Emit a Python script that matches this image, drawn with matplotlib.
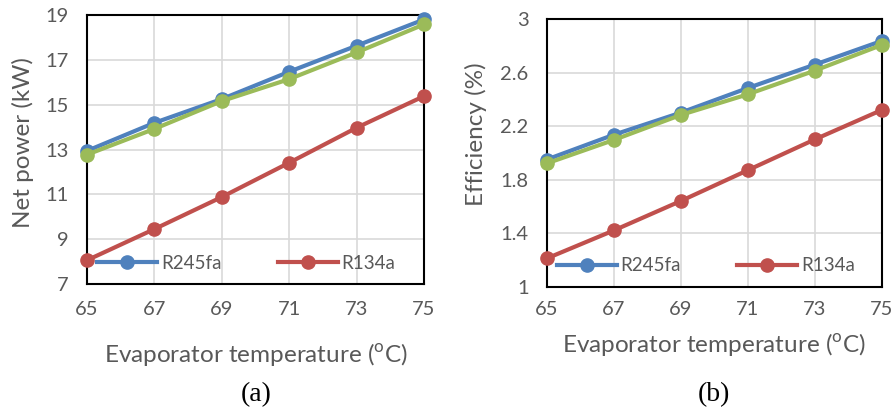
import matplotlib
matplotlib.use("Agg")
import matplotlib.pyplot as plt

plt.rcParams['font.family'] = ['Lato', 'DejaVu Sans']
plt.rcParams['mathtext.fontset'] = 'custom'
plt.rcParams['mathtext.rm'] = 'Lato'

temps = [65, 67, 69, 71, 73, 75]
power_r245fa = [12.94, 14.19, 15.25, 16.47, 17.63, 18.80]
power_green = [12.77, 13.92, 15.16, 16.14, 17.33, 18.58]
power_r134a = [8.06, 9.45, 10.88, 12.41, 13.97, 15.38]
eff_r245fa = [1.95, 2.135, 2.30, 2.484, 2.659, 2.836]
eff_green = [1.921, 2.096, 2.283, 2.437, 2.614, 2.806]
eff_r134a = [1.211, 1.42, 1.64, 1.87, 2.10, 2.32]
xticks = [65, 67, 69, 71, 73, 75]
yticks_a = [7, 9, 11, 13, 15, 17, 19]
yticks_b = [1, 1.4, 1.8, 2.2, 2.6, 3]
ytick_labels_b = ['1', '1.4', '1.8', '2.2', '2.6', '3']

BLUE = '#4F81BD'
RED = '#C0504D'
GREEN = '#9BBB59'
GRAY = '#595959'

fig = plt.figure(figsize=(8.95, 4.12), dpi=100)
axa = fig.add_axes([87/895, 1-284/412, 337/895, 269/412])
axb = fig.add_axes([546.7/895, 1-286.7/412, 335/895, 267.7/412])

def style(ax, ylim, yticks, ylabels):
    ax.set_xlim(65, 75)
    ax.set_ylim(*ylim)
    ax.set_xticks(xticks)
    ax.set_yticks(yticks)
    if ylabels is not None:
        ax.set_yticklabels(ylabels)
    ax.grid(True, color='#D9D9D9', linewidth=1.2)
    ax.set_axisbelow(True)
    for s in ax.spines.values():
        s.set_color('black')
        s.set_linewidth(1.5)
    ax.tick_params(length=0, labelsize=14.5, colors=GRAY, pad=14)

def plot(ax, b, g, r):
    kw = dict(linewidth=3, marker='o', markersize=9.5, clip_on=False, zorder=3)
    ax.plot(temps, b, color=BLUE, label='R245fa', **kw)
    ax.plot(temps, r, color=RED, label='R134a', **kw)
    ax.plot(temps, g, color=GREEN, **kw)

plot(axa, power_r245fa, power_green, power_r134a)
plot(axb, eff_r245fa, eff_green, eff_r134a)
style(axa, (7, 19), yticks_a, None)
style(axb, (1, 3), yticks_b, ytick_labels_b)
axa.tick_params(axis='x', pad=12)
axb.tick_params(axis='x', pad=10)
axa.tick_params(axis='y', pad=13)
axb.tick_params(axis='y', pad=13)

fig.text(23/895, 1-143/412, 'Net power (kW)', rotation=90, ha='center', va='center',
         fontsize=17.5, color=GRAY)
fig.text(476/895, 1-134/412, 'Efficiency (%)', rotation=90, ha='center', va='center',
         fontsize=17.5, color=GRAY)

for ax in (axa, axb):
    ax.legend(loc='center left', bbox_to_anchor=(0.03, 0.078), frameon=False,
              ncol=2, fontsize=13.5, handlelength=3.2, handletextpad=0.2,
              columnspacing=3.0, borderpad=0, borderaxespad=0,
              labelcolor=GRAY)

xl = r'Evaporator temperature ($^{\mathrm{o}}$C)'
fig.text(256/895, 1-355/412, xl, ha='center', va='center', fontsize=17.5, color=GRAY)
fig.text(714/895, 1-344/412, xl, ha='center', va='center', fontsize=17.5, color=GRAY)
fig.text(256/895, 1-395/412, '(a)', ha='center', va='center', fontsize=20,
         family='Liberation Serif', color='black')
fig.text(714/895, 1-395/412, '(b)', ha='center', va='center', fontsize=20,
         family='Liberation Serif', color='black')

fig.savefig('out.png', dpi=100)
